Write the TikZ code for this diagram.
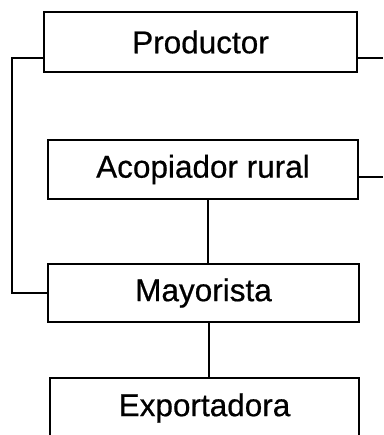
\documentclass[tikz,border=0pt]{standalone}
\usepackage{fontspec}
\setmainfont{Liberation Sans}[FakeBold=0.6]
\begin{document}
\begin{tikzpicture}[x=1pt,y=-1pt,
  box/.style={draw=black, line width=1.9pt, inner sep=0pt, outer sep=0pt,
    font=\fontsize{31.5}{36}\selectfont},
  conn/.style={draw=black, line width=1.8pt}]
\useasboundingbox[fill=white] (0,0) rectangle (383,435);
\node[box, minimum width=313pt, minimum height=60pt] (prod) at (200.5,42) {Productor};
\node[box, minimum width=310pt, minimum height=59pt] (acop) at (203,169.5) {Acopiador rural};
\node[box, minimum width=311pt, minimum height=58pt] (mayo) at (203.5,293) {Mayorista};
\node[box, minimum width=309pt, minimum height=60pt] (expo) at (204.5,408) {Exportadora};
\coordinate (rl) at (12,58);
\coordinate (re1) at (383,58);
\coordinate (re2) at (383,177);
\coordinate (v1) at (208,0);
\coordinate (v2) at (209,0);
\draw[conn] (prod.south west |- rl) -- (rl) -- (rl |- mayo.west) -- (mayo.west);
\draw[conn] (prod.south east |- re1) -- (re1);
\draw[conn] (acop.south east |- re2) -- (re2);
\draw[conn] (v1 |- acop.south) -- (v1 |- mayo.north);
\draw[conn] (v2 |- mayo.south) -- (v2 |- expo.north);
\end{tikzpicture}
\end{document}
